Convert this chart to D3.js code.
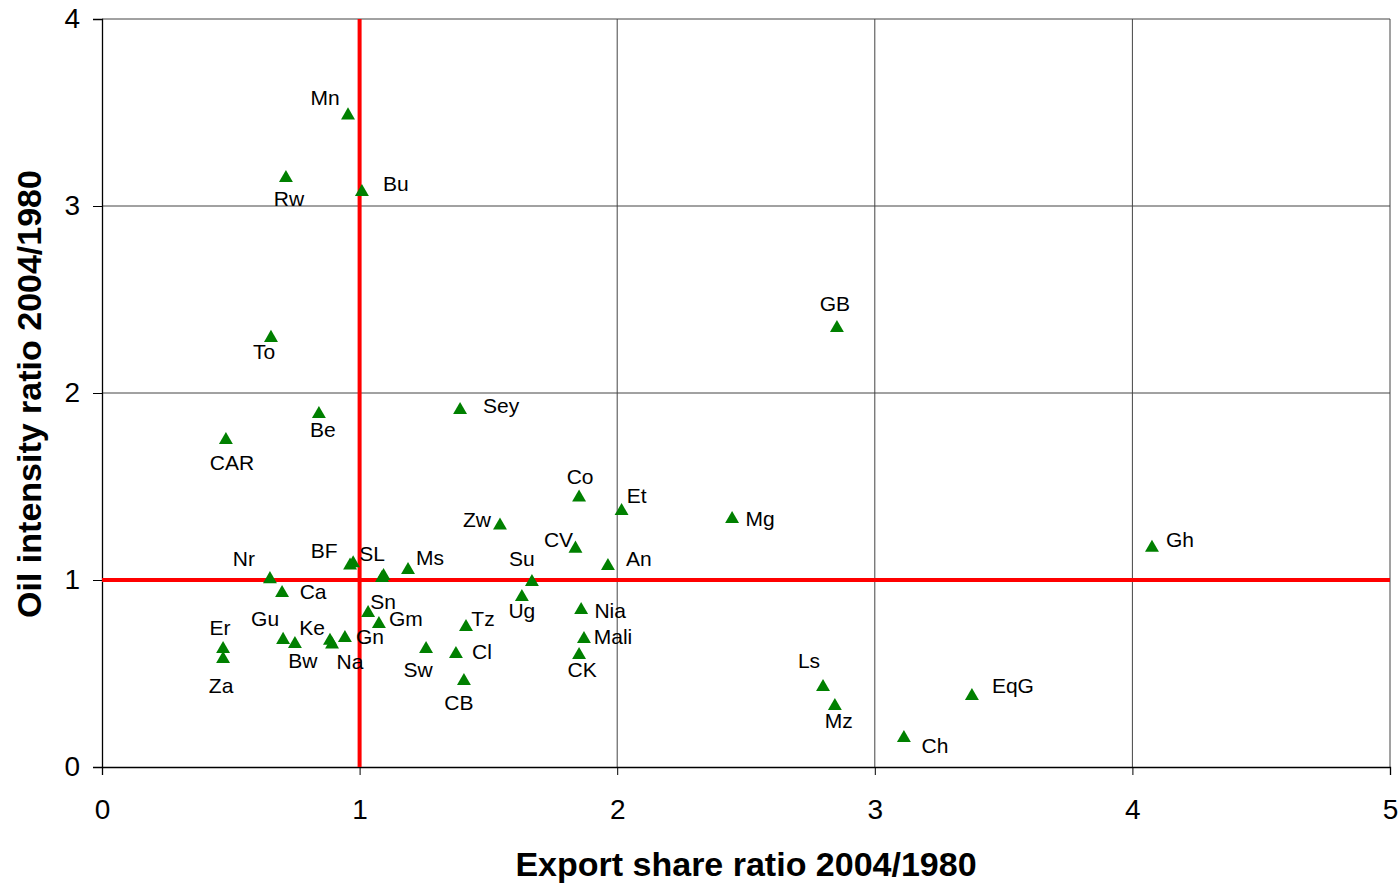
<!DOCTYPE html>
<html>
<head>
<meta charset="utf-8">
<script src="https://cdn.jsdelivr.net/npm/d3@7"></script>
<style>
  body { margin: 0; background: #fff; }
  text { font-family: "Liberation Sans", Arial, sans-serif; fill: #000; }
</style>
</head>
<body>
<div id="chart"></div>
<script>
// data
var countries = ["Mn", "Rw", "Bu", "To", "GB", "Sey", "Be", "CAR", "Co", "Et", "Mg", "Zw", "Gh",
  "CV", "An", "Nr", "BF", "SL", "Ms", "", "", "Su", "Ca", "Sn", "Gm", "Ug", "Nia", "Gu", "Tz",
  "Er", "Ke", "Mali", "Gn", "Cl", "Bw", "Na", "Ls", "Sw", "CK", "Za", "EqG", "CB", "Mz", "Ch"];
var exportRatio = [0.955, 0.714, 1.009, 0.656, 2.853, 1.39, 0.842, 0.481, 1.852, 2.017, 2.446, 1.545, 4.076,
  1.838, 1.964, 0.652, 0.963, 0.975, 1.188, 1.087, 1.093, 1.669, 0.699, 1.033, 1.075, 1.630, 1.860, 0.703, 1.413,
  0.470, 0.885, 1.871, 0.943, 1.374, 0.749, 0.893, 2.799, 1.258, 1.852, 0.470, 3.377, 1.405, 2.845, 3.113];
var oilRatio = [3.49, 3.155, 3.08, 2.30, 2.353, 1.914, 1.893, 1.754, 1.446, 1.374, 1.331, 1.297, 1.178,
  1.173, 1.080, 1.010, 1.083, 1.095, 1.059, 1.016, 1.027, 0.995, 0.936, 0.829, 0.770, 0.914, 0.845, 0.685, 0.754,
  0.636, 0.680, 0.690, 0.695, 0.610, 0.663, 0.660, 0.433, 0.636, 0.604, 0.583, 0.385, 0.465, 0.332, 0.160];
var xTicks = [0, 1, 2, 3, 4, 5];
var yTicks = [0, 1, 2, 3, 4];
var refX = 1, refY = 1;

// label placement (px offsets from the marker)
var labelOffset = {
  Mn: [-23, -17], Rw: [3, 22], Bu: [34, -7], To: [-7, 15], GB: [-2, -23], Sey: [41, -3],
  Be: [4, 17], CAR: [6, 24], Co: [1, -20], Et: [15, -14], Mg: [28, 1], Zw: [-23, -5],
  Gh: [28, -7], CV: [-17, -8], An: [31, -6], Nr: [-26, -19], BF: [-26, -14], SL: [19, -9],
  Ms: [22, -11], Su: [-10, -22], Ca: [31, 0], Sn: [15, -10], Gm: [27, -4], Ug: [0, 15],
  Nia: [29, 2], Gu: [-18, -20], Tz: [17, -7], Er: [-3, -20], Ke: [-18, -12], Mali: [29, -1],
  Gn: [25, 0], Cl: [26, -1], Bw: [8, 18], Na: [18, 18], Ls: [-14, -25], Sw: [-8, 22],
  CK: [3, 16], Za: [-2, 28], EqG: [41, -9], CB: [-5, 23], Mz: [4, 16], Ch: [31, 9]
};

var svgWidth = 1399;
var svgHeight = 885;
var margin = { top: 19, right: 9, bottom: 118, left: 102 };
var width = svgWidth - margin.left - margin.right;
var height = svgHeight - margin.top - margin.bottom;

var svg = d3.select("#chart").append("svg")
  .attr("width", svgWidth)
  .attr("height", svgHeight);

var chartGroup = svg.append("g")
  .attr("transform", `translate(${margin.left}, ${margin.top})`);

var x = d3.scaleLinear().domain([0, 5]).range([0, width]);
var y = d3.scaleLinear().domain([0, 4]).range([height, 0]);

// gridlines
chartGroup.append("g")
  .selectAll("line.vg")
  .data(xTicks.slice(1))
  .enter().append("line")
  .attr("x1", d => x(d)).attr("x2", d => x(d))
  .attr("y1", 0).attr("y2", height)
  .attr("stroke", "#444").attr("stroke-width", 1);
chartGroup.append("g")
  .selectAll("line.hg")
  .data(yTicks.slice(1))
  .enter().append("line")
  .attr("x1", 0).attr("x2", width)
  .attr("y1", d => y(d)).attr("y2", d => y(d))
  .attr("stroke", "#444").attr("stroke-width", 1);

// axes
var bottomAxis = d3.axisBottom(x).tickValues(xTicks).tickSize(8).tickFormat(d3.format("d"));
var leftAxis = d3.axisLeft(y).tickValues(yTicks).tickSize(9).tickFormat(d3.format("d"));

var xAxis = chartGroup.append("g")
  .attr("transform", `translate(0, ${height})`)
  .call(bottomAxis);
var yAxis = chartGroup.append("g").call(leftAxis);

[xAxis, yAxis].forEach(function(ax) {
  ax.select(".domain").attr("stroke", "#000").attr("stroke-width", 1.3);
  ax.selectAll(".tick line").attr("stroke", "#000");
  ax.selectAll(".tick text")
    .style("font-family", '"Liberation Sans", Arial, sans-serif')
    .style("font-size", "28px").attr("fill", "#000");
});
xAxis.selectAll(".tick text").attr("dy", "0.71em").attr("y", 32);
yAxis.selectAll(".tick text").attr("x", -22);

// red reference lines
chartGroup.append("line")
  .attr("x1", x(refX)).attr("x2", x(refX))
  .attr("y1", 0).attr("y2", height)
  .attr("stroke", "#ff0000").attr("stroke-width", 4);
chartGroup.append("line")
  .attr("x1", 0).attr("x2", width)
  .attr("y1", y(refY)).attr("y2", y(refY))
  .attr("stroke", "#ff0000").attr("stroke-width", 4);

var points = countries.map(function(c, i) {
  return { name: c, ex: exportRatio[i], oil: oilRatio[i] };
});

// markers
var tri = d3.symbol().type(d3.symbolTriangle).size(84);
chartGroup.selectAll("path.pt")
  .data(points)
  .enter().append("path")
  .attr("class", "pt")
  .attr("d", tri)
  .attr("transform", d => `translate(${x(d.ex)}, ${y(d.oil) + 1})`)
  .attr("fill", "#008000");

// point labels
chartGroup.selectAll("text.lbl")
  .data(points.filter(d => d.name !== ""))
  .enter().append("text")
  .attr("class", "lbl")
  .attr("x", d => x(d.ex) + labelOffset[d.name][0])
  .attr("y", d => y(d.oil) + labelOffset[d.name][1])
  .attr("text-anchor", "middle")
  .attr("dy", "0.35em")
  .style("font-size", "21px")
  .text(d => d.name);

// axis titles
svg.append("text")
  .attr("x", 746)
  .attr("y", 876)
  .attr("text-anchor", "middle")
  .style("font-size", "34px")
  .style("font-weight", "bold")
  .text("Export share ratio 2004/1980");

svg.append("text")
  .attr("transform", `translate(41, ${margin.top + height / 2 + 1}) rotate(-90)`)
  .attr("text-anchor", "middle")
  .style("font-size", "34px")
  .style("font-weight", "bold")
  .text("Oil intensity ratio 2004/1980");
</script>
</body>
</html>
